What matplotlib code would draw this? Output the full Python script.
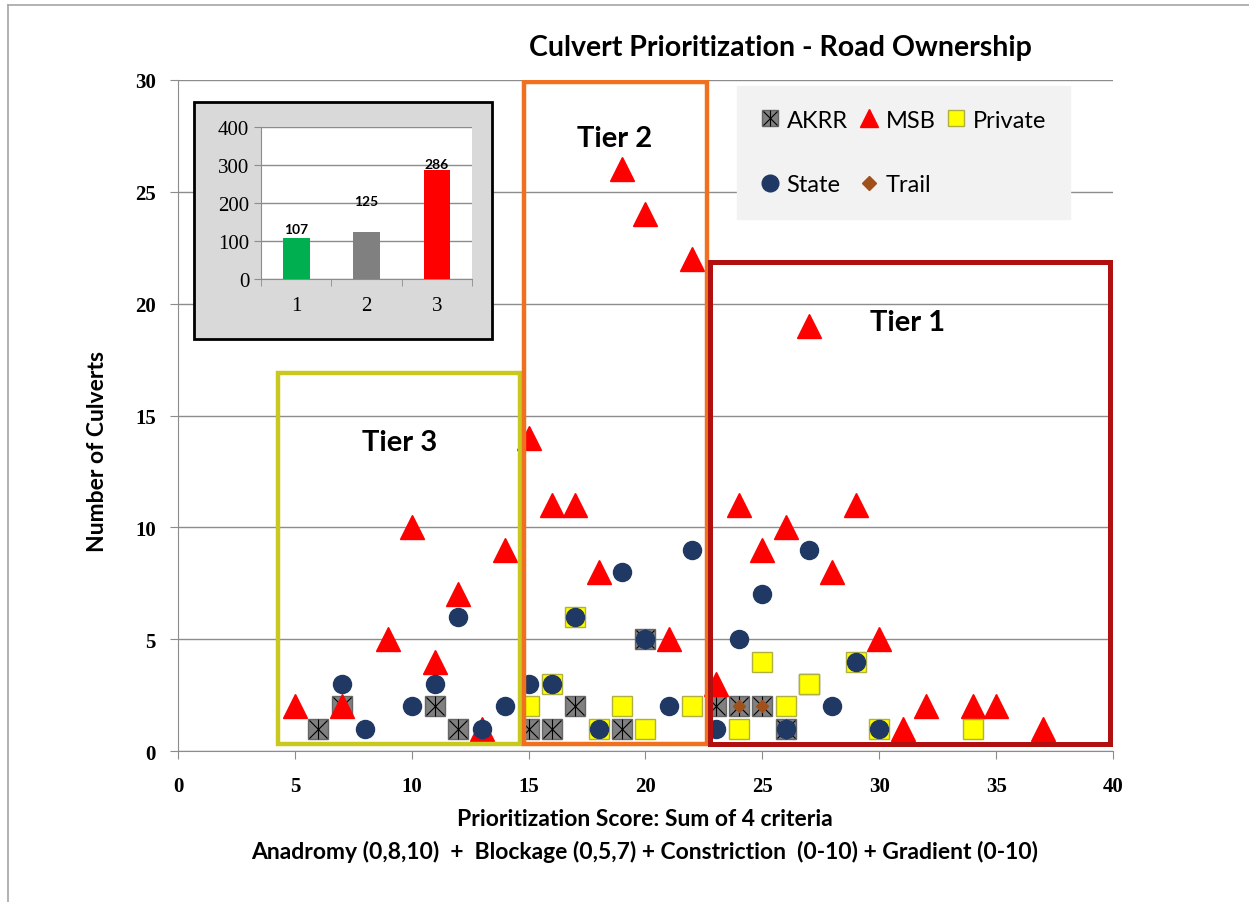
import matplotlib.pyplot as plt
from matplotlib.patches import Rectangle
from matplotlib.lines import Line2D

# score, number of culverts for each road owner
akrr_x = [6, 7, 11, 12, 15, 16, 17, 19, 20, 23, 24, 25, 26, 27]
akrr_y = [1, 2, 2, 1, 1, 1, 2, 1, 5, 2, 2, 2, 1, 3]
msb_x = [5, 7, 9, 10, 11, 12, 13, 14, 15, 16, 17, 18, 19, 20, 21, 22, 23, 24, 25, 26, 27, 28, 29, 30, 31, 32, 34, 35, 37]
msb_y = [2, 2, 5, 10, 4, 7, 1, 9, 14, 11, 11, 8, 26, 24, 5, 22, 3, 11, 9, 10, 19, 8, 11, 5, 1, 2, 2, 2, 1]
priv_x = [15, 16, 17, 18, 19, 20, 22, 24, 25, 26, 27, 29, 30, 34]
priv_y = [2, 3, 6, 1, 2, 1, 2, 1, 4, 2, 3, 4, 1, 1]
state_x = [7, 8, 10, 11, 12, 13, 14, 15, 16, 17, 18, 19, 20, 21, 22, 23, 24, 25, 26, 27, 28, 29, 30]
state_y = [3, 1, 2, 3, 6, 1, 2, 3, 3, 6, 1, 8, 5, 2, 9, 1, 5, 7, 1, 9, 2, 4, 1]
trail_x = [24, 25]
trail_y = [2, 2]

# inset: culverts per tier
tiers = [1, 2, 3]
tier_counts = [107, 125, 286]
tier_colors = ['#00b050', '#808080', '#ff0000']

fig = plt.figure(figsize=(12.49, 9.03), dpi=100)
ax = fig.add_axes([0.1425, 0.1672, 0.7486, 0.7431])

# figure border (left and top only)
fig.add_artist(Line2D([8/1249, 8/1249], [0, 1-6/903], color='#a6a6a6', lw=1.2))
fig.add_artist(Line2D([8/1249, 1], [1-6/903, 1-6/903], color='#a6a6a6', lw=1.2))

ax.set_xlim(0, 40)
ax.set_ylim(0, 30)
ax.set_xticks(range(0, 41, 5))
ax.set_yticks(range(0, 31, 5))
ax.yaxis.grid(True, color='#8c8c8c', lw=1)
ax.set_axisbelow(True)
for s in ['top', 'right']:
    ax.spines[s].set_visible(False)
for s in ['left', 'bottom']:
    ax.spines[s].set_color('#8c8c8c')
ax.tick_params(colors='#8c8c8c', length=6, labelcolor='black')
ax.tick_params(axis='x', pad=12)
ax.tick_params(axis='y', pad=10)
for lab in ax.get_xticklabels() + ax.get_yticklabels():
    lab.set_family('Liberation Serif')
    lab.set_fontsize(15)
    lab.set_weight('bold')

# points
ax.plot(akrr_x, akrr_y, 's', ms=14, mfc='#808080', mec='#666666', mew=1, zorder=3)
ax.plot(akrr_x, akrr_y, 'x', ms=13, color='black', mew=0.8, zorder=3)
ax.plot(akrr_x, akrr_y, '|', ms=14, color='black', mew=0.8, zorder=3)
ax.plot(msb_x, msb_y, '^', ms=17, mfc='#ff0000', mec='#ff0000', zorder=4)
ax.plot(priv_x, priv_y, 's', ms=14, mfc='#ffff00', mec='#b0b040', mew=1, zorder=5)
ax.plot(state_x, state_y, 'o', ms=13, mfc='#1f3864', mec='#1f3864', zorder=6)
ax.plot(trail_x, trail_y, 'D', ms=6.5, mfc='#a0501a', mec='#a0501a', zorder=7)

# tier boxes
ax.add_patch(Rectangle((4.28, 0.3), 14.65 - 4.28, 16.9 - 0.3, fill=False, ec='#c8c81e', lw=3.2, zorder=8))
ax.add_patch(Rectangle((14.8, 0.3), 22.63 - 14.8, 29.9 - 0.3, fill=False, ec='#f07020', lw=3.2, zorder=8))
ax.add_patch(Rectangle((22.76, 0.3), 39.87 - 22.76, 21.86 - 0.3, fill=False, ec='#b01010', lw=3.6, zorder=8))
tfont = dict(family='Lato', weight='bold', fontsize=21, ha='center', va='center')
ax.text(18.7, 27.4, 'Tier 2', **tfont)
ax.text(31.2, 19.2, 'Tier 1', **tfont)
ax.text(9.5, 13.8, 'Tier 3', **tfont)

# legend
h_akrr = (Line2D([], [], ls='', marker='s', ms=11, mfc='#808080', mec='#666666'),
          Line2D([], [], ls='', marker='x', ms=10, color='black', mew=0.8),
          Line2D([], [], ls='', marker='|', ms=11, color='black', mew=0.8))
h_msb = Line2D([], [], ls='', marker='^', ms=13, color='#ff0000')
h_priv = Line2D([], [], ls='', marker='s', ms=12, mfc='#ffff00', mec='#b0b040')
h_state = Line2D([], [], ls='', marker='o', ms=12, color='#1f3864')
h_trail = Line2D([], [], ls='', marker='D', ms=7, color='#a0501a')
leg = ax.legend([h_akrr, h_state, h_msb, h_trail, h_priv],
                ['AKRR', 'State', 'MSB', 'Trail', 'Private'],
                ncol=3, loc='upper left', bbox_to_anchor=(0.598, 0.8, 0.356, 0.191),
                mode='expand', frameon=True, fancybox=False, facecolor='#f2f2f2',
                edgecolor='#f2f2f2', framealpha=1, handlelength=0.8, handletextpad=0.3,
                labelspacing=1.85, borderpad=1.0, borderaxespad=0,
                prop={'family': 'Lato', 'size': 17})
leg.set_zorder(9)

# titles and labels
fig.text(0.6245, 0.947, 'Culvert Prioritization - Road Ownership', ha='center', va='center',
         family='Lato', weight='bold', fontsize=20.5)
fig.text(0.0777, 0.5, 'Number of Culverts', rotation=90, ha='center', va='center',
         family='Lato', weight='bold', fontsize=16.5)
fig.text(0.516, 0.092, 'Prioritization Score: Sum of 4 criteria', ha='center', va='center',
         family='Lato', weight='bold', fontsize=16.5)
fig.text(0.516, 0.0565, 'Anadromy (0,8,10)  +  Blockage (0,5,7) + Constriction  (0-10) + Gradient (0-10)',
         ha='center', va='center', family='Lato', weight='bold', fontsize=16.5)

# inset frame and chart
fig.add_artist(Rectangle((194/1249, 1-340/903), 298/1249, 237/903, transform=fig.transFigure,
                         fc='#d9d9d9', ec='black', lw=2, zorder=10))
ins = fig.add_axes([0.209, 0.69, 0.169, 0.168], zorder=11)
ins.bar(tiers, tier_counts, width=0.38, color=tier_colors, zorder=3)
ins.set_xlim(0.5, 3.5)
ins.set_ylim(0, 400)
ins.set_yticks(range(0, 401, 100))
ins.set_xticks(tiers)
ins.set_xticks([0.5, 1.5, 2.5, 3.5], minor=True)
ins.tick_params(axis='x', which='major', length=0, pad=12)
ins.tick_params(axis='x', which='minor', length=5, color='#8c8c8c')
ins.tick_params(axis='y', length=5, color='#8c8c8c')
ins.yaxis.grid(True, color='#8c8c8c', lw=1)
ins.set_axisbelow(True)
for s in ['top', 'right']:
    ins.spines[s].set_visible(False)
for s in ['left', 'bottom']:
    ins.spines[s].set_color('#8c8c8c')
for lab in ins.get_xticklabels() + ins.get_yticklabels():
    lab.set_family('Liberation Serif')
    lab.set_fontsize(15)
label_y = [tier_counts[0] + 8, tier_counts[1] + 65, tier_counts[2] + 2]
for t, c, ly in zip(tiers, tier_counts, label_y):
    ins.text(t, ly, str(c), ha='center', va='bottom', family='Lato', weight='bold', fontsize=10)

fig.savefig('out.png', dpi=100)
